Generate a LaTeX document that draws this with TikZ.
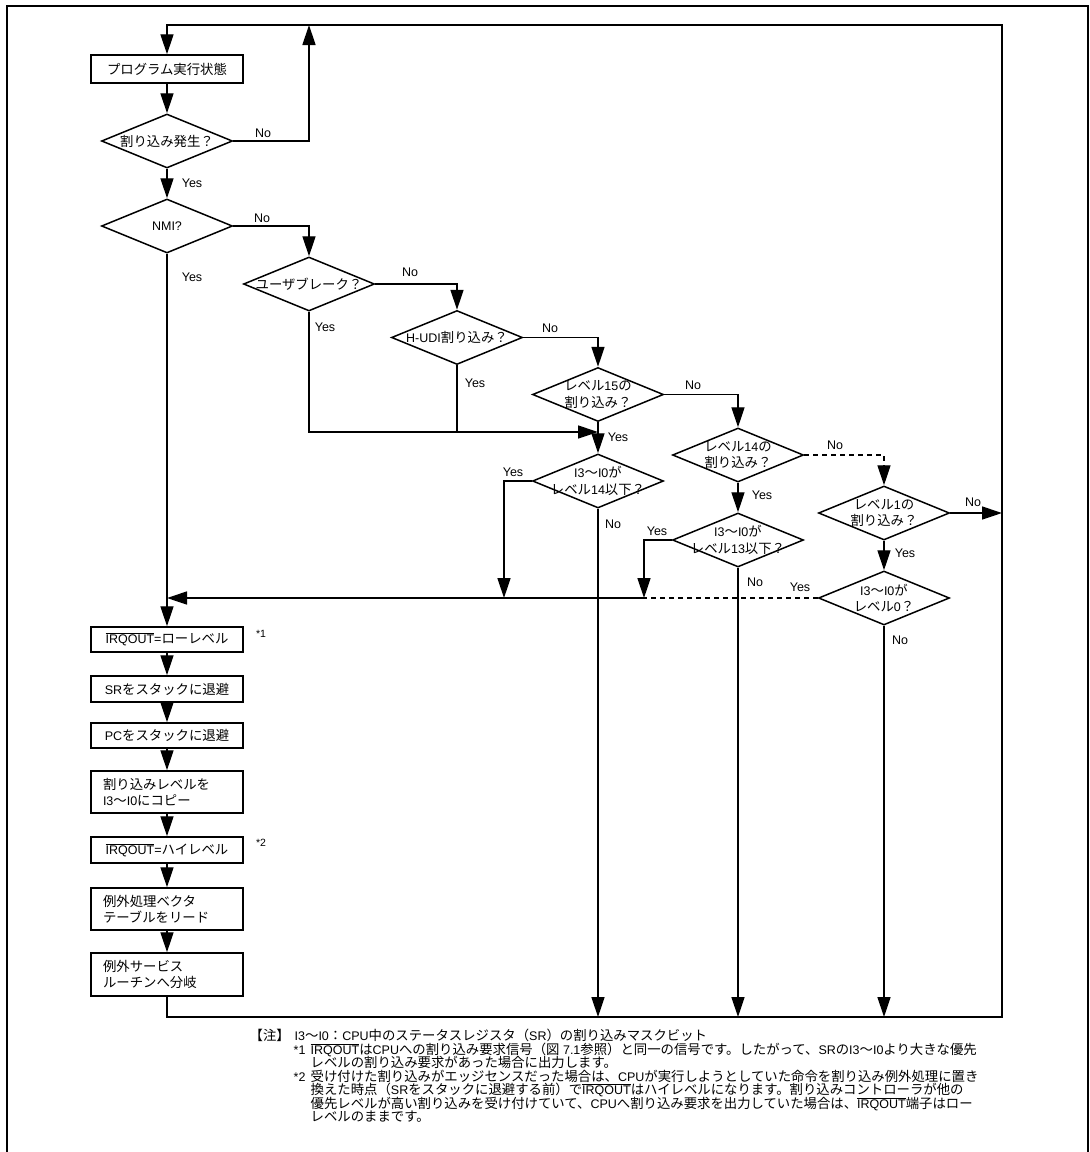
\documentclass[tikz,border=0pt]{standalone}
\usepackage{fontspec}
\setmainfont{Liberation Sans}
\newfontfamily\jp[Scale=1.07]{Noto Sans CJK JP}
\usetikzlibrary{arrows.meta,shapes.geometric}

\newcommand{\irqout}{$\overline{\hbox{IRQOUT}}$}

\begin{document}
\begin{tikzpicture}[x=1pt,y=-1pt,line width=1.4pt,
  txt/.style={font=\fontsize{12.5}{16.5}\selectfont, inner sep=0pt, align=center},
  flow/.style={draw, line width=1.5pt, minimum width=152pt, text width=128pt,
    inner xsep=12pt, inner ysep=0pt, font=\fontsize{12.5}{16.5}\selectfont},
  dia/.style={draw, diamond, line width=1.5pt, minimum width=131pt,
    minimum height=54pt, inner sep=0pt},
  lbl/.style={font=\fontsize{12.5}{15}\selectfont, inner sep=0pt},
  star/.style={font=\fontsize{10.5}{12}\selectfont, inner sep=0pt},
  arr/.style={-{Triangle[length=20pt,width=13pt]}},
  dsh/.style={dash pattern=on 5pt off 4pt},
  note/.style={font=\fontsize{12.5}{13.5}\selectfont, anchor=base west, inner sep=0pt},
]
\useasboundingbox (0,0) rectangle (1090,1152);

% outer frame
\draw[line width=2.6pt] (7,1160) -- (7,6) -- (1088,6) -- (1088,1160);

% process boxes
\node[flow, align=center, minimum height=28pt] (b0) at (167,69) {\jp プログラム実行状態};
\node[flow, align=center, minimum height=25pt] (b1) at (167,639.5) {\irqout={\jp ローレベル}};
\node[flow, align=center, minimum height=26pt] (b2) at (167,689) {SR{\jp をスタックに退避}};
\node[flow, align=center, minimum height=25pt] (b3) at (167,735.5) {PC{\jp をスタックに退避}};
\node[flow, align=left, minimum height=42pt] (b4) at (167,792) {{\jp 割り込みレベルを}\\I3{\jp ～}I0{\jp にコピー}};
\node[flow, align=center, minimum height=26pt] (b5) at (167,850) {\irqout={\jp ハイレベル}};
\node[flow, align=left, minimum height=42pt] (b6) at (167,909) {{\jp 例外処理ベクタ}\\{\jp テーブルをリード}};
\node[flow, align=left, minimum height=43pt] (b7) at (167,974.5) {{\jp 例外サービス}\\{\jp ルーチンへ分岐}};

\node[star] (s1) at (261,634) {*1};
\node[star] (s2) at (261,843) {*2};

% decisions
\node[dia] (d1) at (167,141) {};
\node[txt] (t1) at (d1) {\jp 割り込み発生？};
\node[dia] (d2) at (167,226) {};
\node[txt] (t2) at (d2) {NMI?};
\node[dia] (d3) at (309,284) {};
\node[txt] (t3) at (d3) {\jp ユーザブレーク？};
\node[dia] (d4) at (457,337.5) {};
\node[txt] (t4) at (d4) {H-UDI{\jp 割り込み？}};
\node[dia] (d5) at (598,394.5) {};
\node[txt] (t5) at (d5) {{\jp レベル}15{\jp の}\\{\jp 割り込み？}};
\node[dia] (d6) at (598,481) {};
\node[txt] (t6) at (d6) {I3{\jp ～}I0{\jp が}\\{\jp レベル}14{\jp 以下？}};
\node[dia] (d7) at (738,455) {};
\node[txt] (t7) at (d7) {{\jp レベル}14{\jp の}\\{\jp 割り込み？}};
\node[dia] (d8) at (738,540) {};
\node[txt] (t8) at (d8) {I3{\jp ～}I0{\jp が}\\{\jp レベル}13{\jp 以下？}};
\node[dia] (d9) at (884,513) {};
\node[txt] (t9) at (d9) {{\jp レベル}1{\jp の}\\{\jp 割り込み？}};
\node[dia] (d10) at (884,598) {};
\node[txt] (t10) at (d10) {I3{\jp ～}I0{\jp が}\\{\jp レベル}0{\jp ？}};

% corner and junction points
\coordinate (tl) at (167,25);
\coordinate (tm) at (309,25);
\coordinate (tr) at (1002,25);
\coordinate (br) at (1002,1017);
\coordinate (bl) at (167,1017);
\coordinate (j1) at (167,598);
\coordinate (j2) at (598,432);
\coordinate (j3) at (504,598);
\coordinate (j4) at (644,598);

% main loop
\draw[arr] (b7.south) -- (bl) -- (br) -- (tr) -- (tl) -- (b0.north);
\draw[arr] (b0.south) -- (d1.north);
\draw[arr] (d1.east) -| (tm);
\draw[arr] (d1.south) -- (d2.north);
\draw[arr] (d2.east) -| (d3.north);
\draw[arr] (d2.south) -- (b1.north);
\draw[arr] (d3.east) -| (d4.north);
\draw[arr] (d3.south) |- (j2);
\draw (d4.south) -- (d4.south |- j2);
\draw[arr] (d4.east) -| (d5.north);
\draw[arr] (d5.south) -- (d6.north);
\draw[arr] (d5.east) -| (d7.north);
\draw[arr] (d6.west) -| (j3);
\draw[arr] (d6.south) -- (d6.south |- bl);
\draw[arr] (d7.south) -- (d8.north);
\draw[arr, dsh] (d7.east) -| (d9.north);
\draw[arr] (d8.west) -| (j4);
\draw[arr] (d8.south) -- (d8.south |- bl);
\draw[arr] (d9.east) -- (d9.east -| br);
\draw[arr] (d9.south) -- (d10.north);
\draw[dsh] (d10.west) -- (j4);
\draw[arr] (j4) -- (j1);
\draw[arr] (d10.south) -- (d10.south |- bl);

% process chain
\draw[arr] (b1.south) -- (b2.north);
\draw[arr] (b2.south) -- (b3.north);
\draw[arr] (b3.south) -- (b4.north);
\draw[arr] (b4.south) -- (b5.north);
\draw[arr] (b5.south) -- (b6.north);
\draw[arr] (b6.south) -- (b7.north);

% branch labels
\node[lbl] (l1) at (263,133) {No};
\node[lbl] (l2) at (192,183) {Yes};
\node[lbl] (l3) at (262,218) {No};
\node[lbl] (l4) at (192,277) {Yes};
\node[lbl] (l5) at (410,272) {No};
\node[lbl] (l6) at (325,327) {Yes};
\node[lbl] (l7) at (550,328) {No};
\node[lbl] (l8) at (475,383) {Yes};
\node[lbl] (l9) at (693,385) {No};
\node[lbl] (l10) at (618,437) {Yes};
\node[lbl] (l11) at (513,472) {Yes};
\node[lbl] (l12) at (613,524) {No};
\node[lbl] (l13) at (835,445) {No};
\node[lbl] (l14) at (762,495) {Yes};
\node[lbl] (l15) at (657,531) {Yes};
\node[lbl] (l16) at (755,582) {No};
\node[lbl] (l17) at (973,502) {No};
\node[lbl] (l18) at (905,553) {Yes};
\node[lbl] (l19) at (800,587) {Yes};
\node[lbl] (l20) at (900,640) {No};

% notes
\node[note] (m0) at (249,1040.5) {\jp 【注】};
\node[note] (m1) at (294,1040.5) {I3{\jp ～}I0{\jp ：}CPU{\jp 中のステータスレジスタ（}SR{\jp ）の割り込みマスクビット}};
\node[note] (m2) at (293,1054) {*1};
\node[note] (m3) at (310,1054) {\irqout{\jp は}CPU{\jp への割り込み要求信号（図} 7.1{\jp 参照）と同一の信号です。したがって、}SR{\jp の}I3{\jp ～}I0{\jp より大きな優先}};
\node[note] (m4) at (310,1067.5) {\jp レベルの割り込み要求があった場合に出力します。};
\node[note] (m5) at (293,1081) {*2};
\node[note] (m6) at (310,1081) {{\jp 受け付けた割り込みがエッジセンスだった場合は、}CPU{\jp が実行しようとしていた命令を割り込み例外処理に置き}};
\node[note] (m7) at (310,1094.5) {{\jp 換えた時点（}SR{\jp をスタックに退避する前）で}\irqout{\jp はハイレベルになります。割り込みコントローラが他の}};
\node[note] (m8) at (310,1108) {{\jp 優先レベルが高い割り込みを受け付けていて、}CPU{\jp へ割り込み要求を出力していた場合は、}\irqout{\jp 端子はロー}};
\node[note] (m9) at (310,1121.5) {\jp レベルのままです。};
\end{tikzpicture}
\end{document}
